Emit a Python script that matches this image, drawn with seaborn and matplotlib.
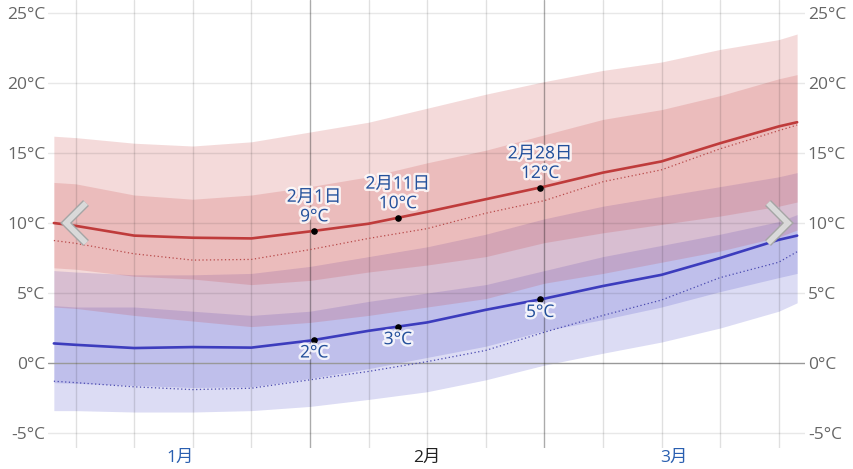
import numpy as np
import pandas as pd
import matplotlib
matplotlib.use("Agg")
import matplotlib.pyplot as plt
import matplotlib.patheffects as pe
from matplotlib.lines import Line2D
import seaborn as sns

# days since Jan 1
days = [0.4, 3, 10, 17, 24, 31, 38, 45, 52, 59, 66, 73, 80, 87, 89.2]

high_p90 = [16.2, 16.1, 15.7, 15.5, 15.8, 16.5, 17.2, 18.2, 19.2, 20.1, 20.9, 21.5, 22.4, 23.1, 23.5]
high_p75 = [12.9, 12.8, 12.0, 11.7, 12.0, 12.6, 13.3, 14.3, 15.2, 16.3, 17.4, 18.1, 19.1, 20.3, 20.6]
high_mean = [10.0, 9.8, 9.1, 8.95, 8.9, 9.4, 9.95, 10.8, 11.7, 12.6, 13.6, 14.4, 15.7, 16.9, 17.2]
high_feel = [8.75, 8.55, 7.8, 7.35, 7.4, 8.1, 8.9, 9.6, 10.7, 11.6, 12.95, 13.8, 15.3, 16.6, 17.0]
high_p25 = [6.8, 6.7, 6.2, 6.0, 5.6, 5.9, 6.5, 7.0, 7.6, 8.6, 9.3, 9.9, 10.5, 11.2, 11.5]
high_p10 = [4.0, 3.9, 3.4, 3.0, 2.6, 2.9, 3.4, 4.0, 4.6, 5.7, 6.4, 7.2, 8.0, 9.0, 9.5]

low_p90 = [6.6, 6.5, 6.3, 6.3, 6.4, 6.9, 7.6, 8.3, 9.2, 10.3, 11.2, 11.9, 12.6, 13.3, 13.6]
low_p75 = [4.1, 4.0, 4.0, 3.7, 3.4, 3.7, 4.4, 5.0, 5.6, 6.6, 7.6, 8.4, 9.2, 10.1, 10.6]
low_mean = [1.4, 1.3, 1.07, 1.14, 1.1, 1.6, 2.3, 2.9, 3.8, 4.6, 5.5, 6.3, 7.5, 8.8, 9.1]
low_feel = [-1.3, -1.4, -1.7, -1.9, -1.8, -1.2, -0.6, 0.1, 0.9, 2.2, 3.4, 4.5, 6.1, 7.2, 7.95]
low_p25 = [-1.4, -1.45, -1.6, -1.75, -1.7, -1.1, -0.4, 0.4, 1.2, 2.3, 3.1, 4.0, 5.1, 6.1, 6.4]
low_p10 = [-3.4, -3.4, -3.5, -3.5, -3.4, -3.1, -2.6, -2.05, -1.2, -0.15, 0.7, 1.5, 2.5, 3.7, 4.3]

mark_days = [31.5, 41.5, 58.5]
mark_dates = ["2月1日", "2月11日", "2月28日"]
high_labels = [9, 10, 12]
low_labels = [2, 3, 5]

week_days = [3, 10, 17, 24, 31, 38, 45, 52, 59, 66, 73, 80, 87]
month_start = [31, 59]
month_mid = [15.5, 45, 74.5]
month_names = ["1月", "2月", "3月"]
month_colors = ["#2a5fb0", "#222222", "#2a5fb0"]
yticks = [-5, 0, 5, 10, 15, 20, 25]

df = pd.DataFrame({"day": days, "high": high_mean, "high_feel": high_feel,
                   "low": low_mean, "low_feel": low_feel})

sns.set_style("white")
plt.rcParams["font.family"] = ["Open Sans", "Noto Sans CJK SC", "DejaVu Sans"]

fig = plt.figure(figsize=(8.54, 4.69), dpi=100)
ax = fig.add_axes([48 / 854, 21 / 469, 757 / 854, 448 / 469])

red = (0.78, 0.24, 0.24)
blue = (0.24, 0.24, 0.78)

ax.fill_between(days, low_p10, low_p90, color=blue, alpha=0.18, lw=0, zorder=1)
ax.fill_between(days, low_p25, low_p75, color=blue, alpha=0.18, lw=0, zorder=1)
ax.fill_between(days, high_p10, high_p90, color=red, alpha=0.19, lw=0, zorder=1)
ax.fill_between(days, high_p25, high_p75, color=red, alpha=0.19, lw=0, zorder=1)

sns.lineplot(data=df, x="day", y="high", ax=ax, color="#bf3b3b", lw=1.9, zorder=4)
sns.lineplot(data=df, x="day", y="low", ax=ax, color="#3c3cbd", lw=1.9, zorder=4)
sns.lineplot(data=df, x="day", y="high_feel", ax=ax, color="#b84a4a", lw=0.9,
             ls=(0, (1, 2)), zorder=4)
sns.lineplot(data=df, x="day", y="low_feel", ax=ax, color="#4a4ab0", lw=0.9,
             ls=(0, (1, 2)), zorder=4)

# grid
for t in yticks:
    if t == 0:
        ax.axhline(t, color="#999999", lw=1, zorder=3)
    else:
        ax.axhline(t, color=(0, 0, 0, 0.09), lw=1, zorder=3)
for d in week_days:
    if d in month_start:
        ax.axvline(d, color=(0, 0, 0, 0.33), lw=1, zorder=3)
    else:
        ax.axvline(d, color=(0, 0, 0, 0.12), lw=1, zorder=3)

halo = [pe.withStroke(linewidth=3.5, foreground=(1, 1, 1, 0.8))]
hi_y = np.interp(mark_days, days, high_mean)
lo_y = np.interp(mark_days, days, low_mean)
ax.scatter(mark_days, hi_y, s=14, color="black", zorder=6)
ax.scatter(mark_days, lo_y, s=14, color="black", zorder=6)
for d, lab, hv, lv, yh, yl in zip(mark_days, mark_dates, high_labels, low_labels, hi_y, lo_y):
    ax.annotate(f"{lab}\n{hv}°C", (d, yh), xytext=(0, 4), textcoords="offset points",
                ha="center", va="bottom", fontsize=12.5, color="#24509b",
                linespacing=1.3, path_effects=halo, zorder=7)
    ax.annotate(f"{lv}°C", (d, yl), xytext=(0, -4), textcoords="offset points",
                ha="center", va="top", fontsize=12.5, color="#24509b",
                path_effects=halo, zorder=7)

for m, name, c in zip(month_mid, month_names, month_colors):
    ax.annotate(name, (m, 0), xycoords=("data", "axes fraction"), xytext=(0, -7),
                textcoords="offset points", ha="center", va="center",
                fontsize=12.5, color=c)

ax.set_xlim(-0.3, 90.14)
ax.set_ylim(-6.07, 25.93)
ax.set_xticks([])
ax.set_yticks(yticks, labels=[f"{t}°C" for t in yticks])
ax.tick_params(axis="y", length=0, pad=2, labelsize=12.5, labelcolor="#666666",
               labelright=True, right=False)
ax.set_xlabel("")
ax.set_ylabel("")
for s in ax.spines.values():
    s.set_visible(False)

# navigation chevrons
def chevron(xs, ys):
    xf = [x / 854 for x in xs]
    yf = [1 - y / 469 for y in ys]
    ln = Line2D(xf, yf, transform=fig.transFigure, color="#d9d9d9", lw=4,
                solid_capstyle="butt", solid_joinstyle="miter",
                path_effects=[pe.Stroke(linewidth=6, foreground="#a5a5a5"), pe.Normal()],
                zorder=10)
    fig.add_artist(ln)

chevron([86, 66, 86], [203, 223, 243])
chevron([768, 788, 768], [203, 223, 243])

fig.savefig("out.png", dpi=100)
